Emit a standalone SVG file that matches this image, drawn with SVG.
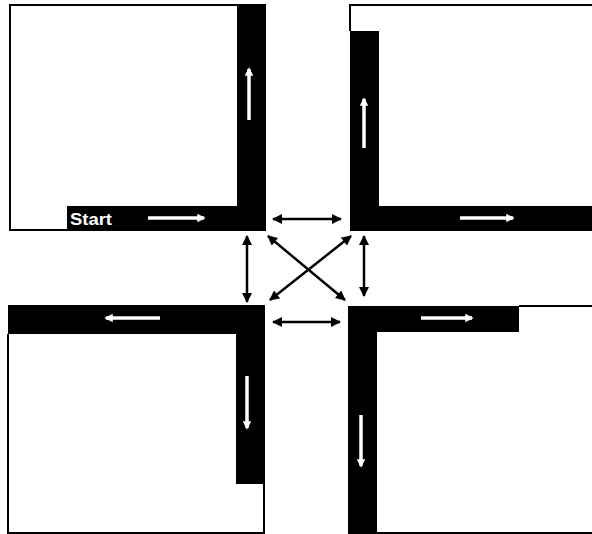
<svg xmlns="http://www.w3.org/2000/svg" width="592" height="534" viewBox="0 0 592 534">
<style>
.frame{fill:none;stroke:#000;stroke-width:2}
.bar{fill:#000}
.warrow{stroke:#fff;stroke-width:3.5;fill:none}
.conn{stroke:#000;stroke-width:2.5;fill:none;marker-start:url(#ah);marker-end:url(#ah)}
.label{font-family:"Liberation Sans",Arial,sans-serif;font-weight:bold;font-size:16px;fill:#fff}
</style>
<defs>
<marker id="ah" viewBox="0 0 10 10" refX="9" refY="5" markerWidth="4.4" markerHeight="4" orient="auto-start-reverse" markerUnits="strokeWidth">
<path d="M0,0 L10,5 L0,10 Z" fill="#000"/>
</marker>
<marker id="wh" viewBox="0 0 10 10" refX="8" refY="5" markerWidth="2.6" markerHeight="2.4" orient="auto" markerUnits="strokeWidth">
<path d="M0,0 L10,5 L0,10 Z" fill="#fff"/>
</marker>
</defs>
<rect width="592" height="534" fill="#fff"/>
<g id="panel-top-left">
<polyline class="frame" points="238,5 10,5 10,230 67,230"/>
<path class="bar" d="M237,4 H266 V231 H67 V206 H237 Z"/>
<text class="label" x="70" y="225" textLength="42" lengthAdjust="spacingAndGlyphs">Start</text>
<line class="warrow" x1="148" y1="218" x2="204" y2="218" marker-end="url(#wh)"/>
<line class="warrow" x1="249" y1="120" x2="249" y2="69" marker-end="url(#wh)"/>
</g>
<g id="panel-top-right">
<polyline class="frame" points="350,31 350,5 592,5"/>
<path class="bar" d="M350,31 H379 V206 H592 V231 H350 Z"/>
<line class="warrow" x1="364" y1="148" x2="364" y2="99" marker-end="url(#wh)"/>
<line class="warrow" x1="460" y1="218" x2="513" y2="218" marker-end="url(#wh)"/>
</g>
<g id="panel-bottom-left">
<polyline class="frame" points="8,334 8,533 264,533 264,484"/>
<path class="bar" d="M8,305 H265 V484 H236 V334 H8 Z"/>
<line class="warrow" x1="160" y1="318" x2="106" y2="318" marker-end="url(#wh)"/>
<line class="warrow" x1="247" y1="376" x2="247" y2="428" marker-end="url(#wh)"/>
</g>
<g id="panel-bottom-right">
<polyline class="frame" points="519,306 592,306"/>
<polyline class="frame" points="377,533 592,533"/>
<path class="bar" d="M348,306 H519 V332 H377 V534 H348 Z"/>
<line class="warrow" x1="421" y1="318" x2="472" y2="318" marker-end="url(#wh)"/>
<line class="warrow" x1="361" y1="415" x2="361" y2="466" marker-end="url(#wh)"/>
</g>
<g id="connectors">
<line class="conn" x1="273" y1="219" x2="341" y2="219"/>
<line class="conn" x1="273" y1="322" x2="340" y2="322"/>
<line class="conn" x1="247" y1="236" x2="247" y2="302"/>
<line class="conn" x1="364" y1="236" x2="364" y2="296"/>
<line class="conn" x1="268" y1="236" x2="345" y2="300"/>
<line class="conn" x1="351" y1="236" x2="270" y2="300"/>
</g>
</svg>
